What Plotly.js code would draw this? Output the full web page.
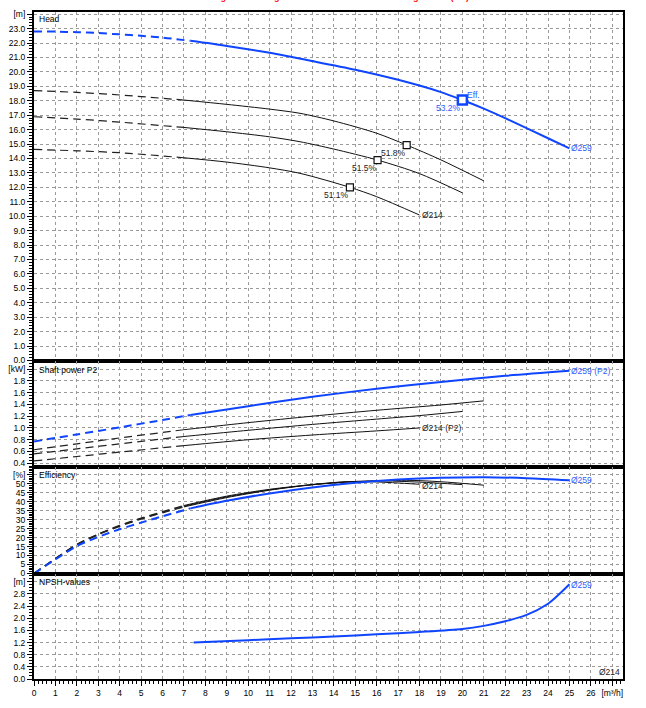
<!DOCTYPE html>
<html><head><meta charset="utf-8">
<script src="https://cdn.plot.ly/plotly-3.0.1.min.js"></script>
<style>html,body{margin:0;padding:0;background:#fff}#chart{width:646px;height:708px}</style>
</head><body><div id="chart"></div>
<script>
// ---------- DATA ----------
// Head [m]
const headQ_259 = [0,1,2,3,4,5,6,7.3,9,11,13,15,17,19,20,21,22.5,24,25];
const head_259  = [22.8,22.79,22.75,22.69,22.6,22.5,22.38,22.15,21.8,21.32,20.75,20.15,19.45,18.6,18.05,17.45,16.45,15.4,14.7];
const headQ_A = [0,2,4,7,9,11,12.42,14,16,17.4,19,21];
const head_A  = [18.7,18.58,18.4,18.05,17.75,17.42,17.13,16.6,15.75,14.93,13.9,12.45];
const headQ_B = [0,2,4,7,9,11,12.42,14,16.04,18,20];
const head_B  = [16.89,16.73,16.52,16.15,15.85,15.5,15.16,14.65,13.89,12.95,11.62];
const headQ_214 = [0,2,4,7,9,11,12.42,14.75,16,18];
const head_214  = [14.63,14.53,14.4,14.05,13.75,13.35,12.97,12.0,11.35,10.08];
// Best-efficiency points
const bepQ   = [17.4, 16.04, 14.75];
const bepH   = [14.93, 13.89, 12.0];
const bepTxt = ['51.8%','51.5%','51.1%'];
const bep259Q = 20.0, bep259H = 18.05, bep259Txt = '53.2%';
// Shaft power P2 [kW]
const powQ_259 = [0,2,4,6,7.3,10,13,16,19,22,25];
const pow_259  = [0.77,0.89,1.01,1.135,1.22,1.37,1.53,1.665,1.78,1.885,1.97];
const powQ_A = [0,2,4,7,10,13,16,19,21];
const pow_A  = [0.63,0.73,0.83,0.97,1.09,1.2,1.3,1.39,1.46];
const powQ_B = [0,2,4,7,10,13,16,18,20];
const pow_B  = [0.56,0.645,0.73,0.855,0.96,1.06,1.15,1.21,1.28];
const powQ_214 = [0,2,4,7,10,13,16,18];
const pow_214  = [0.44,0.515,0.59,0.7,0.8,0.88,0.95,1.0];
// Efficiency [%]
const effQ_259 = [0,1,2,3,4,5,6,7.3,9,11,13,15,17,19,21,23,25];
const eff_259  = [0,7.8,15.3,20.3,24.6,28.3,31.8,36.2,40.4,44.5,47.8,50.4,52.2,53.2,53.5,53,51.8];
const effQ_A = [0,1,2,3,4,5,6,7,9,11,13,15,17.4,19,21];
const eff_A  = [0,8.4,16.3,22,26.8,30.8,34.4,37.8,43,46.8,49.4,51,51.8,51,49.1];
const effQ_B = [0,1,2,3,4,5,6,7,9,11,13,14.5,16.04,18,20];
const eff_B  = [0,8.3,16.1,21.8,26.5,30.5,34,37.4,42.6,46.5,49.3,50.9,51.5,50.8,49.4];
const effQ_214 = [0,1,2,3,4,5,6,7,9,11,13,14.75,16,18];
const eff_214  = [0,8.2,15.9,21.5,26.2,30.2,33.7,37,42.2,46.3,49.5,51.1,50.9,49.6];
// NPSH [m]
const npshQ_259 = [7.45,10,12,14,16,18,20,21,22,23,24,24.5,25];
const npsh_259  = [1.2,1.28,1.34,1.4,1.47,1.55,1.65,1.75,1.9,2.11,2.48,2.78,3.12];
// Where the dashed (extrapolated) part ends
const dashEnd259 = 7.3, dashEndBlack = 7.0;
// Tick labels
const xTickVals = [...Array(28).keys()];
const xTickText = xTickVals.map(v => v === 27 ? '[m³/h]' : String(v));
const headTicks = [...Array(25).keys()];
const headText  = headTicks.map(v => v === 24 ? '[m]' : v.toFixed(1));
const powTicks = [0.4,0.6,0.8,1.0,1.2,1.4,1.6,1.8,2.0];
const powText  = powTicks.map(v => v === 2.0 ? '[kW]' : v.toFixed(1));
const effTicks = [0,5,10,15,20,25,30,35,40,45,50,55];
const effText  = effTicks.map(v => v === 55 ? '[%]' : String(v));
const npshTicks = [0,0.4,0.8,1.2,1.6,2.0,2.4,2.8,3.2];
const npshText  = npshTicks.map(v => v === 3.2 ? '[m]' : v.toFixed(1));
const title = 'Main n.x - according to Ecodesign Directive 2009/125/EC and Regulation (EU) No.547/2012';

// ---------- STYLE ----------
const BLUE = '#0f45ff', BLUE_T = '#2d5cff', BLACK = '#111';
const FONT = 'Liberation Sans, Arial, sans-serif';
const traces = [];
function curve(Q, V, split, color, width, xa, ya, solidOnly) {
  const dq = [], dv = [], sq = [], sv = [];
  Q.forEach((q, i) => {
    if (!solidOnly && q <= split) { dq.push(q); dv.push(V[i]); }
    if (solidOnly || q >= split) { sq.push(q); sv.push(V[i]); }
  });
  if (dq.length > 1) traces.push({x: dq, y: dv, xaxis: xa, yaxis: ya, mode: 'lines',
    line: {color: color === BLUE ? BLUE : '#222', width: color === BLUE ? width : 1.2, dash: '8px,5px', shape: 'spline', smoothing: 0.8},
    hoverinfo: 'skip', showlegend: false});
  traces.push({x: sq, y: sv, xaxis: xa, yaxis: ya, mode: 'lines',
    line: {color: color, width: width, shape: 'spline', smoothing: 0.8}, hoverinfo: 'skip', showlegend: false});
}
// Head
curve(headQ_A, head_A, dashEndBlack, BLACK, 1, 'x', 'y');
curve(headQ_B, head_B, dashEndBlack, BLACK, 1, 'x', 'y');
curve(headQ_214, head_214, dashEndBlack, BLACK, 1, 'x', 'y');
curve(headQ_259, head_259, dashEnd259, BLUE, 2, 'x', 'y');
traces.push({x: bepQ, y: bepH, xaxis: 'x', yaxis: 'y', mode: 'markers',
  marker: {symbol: 'square', size: 7, color: '#fff', line: {color: BLACK, width: 1.2}}, showlegend: false, hoverinfo: 'skip'});
traces.push({x: [bep259Q], y: [bep259H], xaxis: 'x', yaxis: 'y', mode: 'markers',
  marker: {symbol: 'square', size: 9, color: '#fff', line: {color: BLUE, width: 2.5}}, showlegend: false, hoverinfo: 'skip'});
// Power
curve(powQ_A, pow_A, dashEndBlack, BLACK, 1, 'x2', 'y2');
curve(powQ_B, pow_B, dashEndBlack, BLACK, 1, 'x2', 'y2');
curve(powQ_214, pow_214, dashEndBlack, BLACK, 1, 'x2', 'y2');
curve(powQ_259, pow_259, dashEnd259, BLUE, 2, 'x2', 'y2');
// Efficiency
curve(effQ_A, eff_A, dashEndBlack, BLACK, 1, 'x3', 'y3');
curve(effQ_B, eff_B, dashEndBlack, BLACK, 1, 'x3', 'y3');
curve(effQ_214, eff_214, dashEndBlack, BLACK, 1, 'x3', 'y3');
curve(effQ_259, eff_259, dashEnd259, BLUE, 2, 'x3', 'y3');
// NPSH
curve(npshQ_259, npsh_259, 0, BLUE, 2, 'x4', 'y4', true);

const grid = {showgrid: true, gridcolor: '#9a9a9a', griddash: 'dot', gridwidth: 1,
  showline: true, linecolor: '#000', linewidth: 2, mirror: true, zeroline: false,
  tickfont: {family: FONT, size: 8.5, color: '#000'}};
function xa(anchor, labels) {
  return Object.assign({}, grid, {anchor: anchor, range: [0, 27.5], tickmode: 'array', tickvals: xTickVals,
    ticktext: xTickText, showticklabels: labels, ticks: labels ? 'outside' : '', ticklen: 5, tickcolor: '#000',
    minor: labels ? {tickmode: 'linear', tick0: 0, dtick: 0.2, ticks: 'outside', ticklen: 3, tickcolor: '#000', showgrid: false} : {},
    matches: anchor === 'y4' ? undefined : 'x4'});
}
function ya(dom, range, tv, tt, mdt) {
  return Object.assign({}, grid, {domain: dom, range: range, tickmode: 'array', tickvals: tv, ticktext: tt,
    ticks: 'outside', ticklen: 5, tickcolor: '#000',
    minor: {tickmode: 'linear', tick0: 0, dtick: mdt, ticks: 'outside', ticklen: 3, tickcolor: '#000', showgrid: false}});
}
const L = 34, R = 23, T = 12, B = 29, H = 708;
const f = p => (H - B - p) / (H - T - B);
const ann = [];
function txt(x, y, t, xr, yr, color, xanchor, yanchor, xs, ys) {
  ann.push({x: x, y: y, xref: xr, yref: yr, text: t, showarrow: false, xanchor: xanchor, yanchor: yanchor,
    xshift: xs || 0, yshift: ys || 0, font: {family: FONT, size: 8.5, color: color}});
}
txt(0.15, 23.65, 'Head', 'x', 'y', '#000', 'left', 'middle');
txt(0.15, 1.98, 'Shaft power P2', 'x2', 'y2', '#000', 'left', 'middle');
txt(0.15, 55, 'Efficiency', 'x3', 'y3', '#000', 'left', 'middle');
txt(0.15, 3.2, 'NPSH-values', 'x4', 'y4', '#000', 'left', 'middle');
bepQ.forEach((q, i) => txt(q, bepH[i], bepTxt[i], 'x', 'y', '#222', 'right', 'top', 1, -1));
txt(bep259Q, bep259H, bep259Txt, 'x', 'y', BLUE_T, 'right', 'top', 1, -1);
txt(bep259Q, bep259H, 'Eff.', 'x', 'y', BLUE_T, 'left', 'bottom', 3, -2);
txt(25, 14.7, 'Ø259', 'x', 'y', BLUE_T, 'left', 'middle');
txt(18, 10.08, 'Ø214', 'x', 'y', '#222', 'left', 'middle');
txt(25, 1.97, 'Ø259 (P2)', 'x2', 'y2', BLUE_T, 'left', 'middle');
txt(18, 1.0, 'Ø214 (P2)', 'x2', 'y2', '#222', 'left', 'middle');
txt(25, 51.8, 'Ø259', 'x3', 'y3', BLUE_T, 'left', 'middle');
txt(18, 48.4, 'Ø214', 'x3', 'y3', '#222', 'left', 'middle');
txt(25, 3.1, 'Ø259', 'x4', 'y4', BLUE_T, 'left', 'middle');
txt(27.45, 0.23, 'Ø214', 'x4', 'y4', '#222', 'right', 'middle');
ann.push({x: 0.5, y: f(-2.5), xref: 'paper', yref: 'paper', text: '<b>' + title + '</b>', showarrow: false,
  xanchor: 'center', yanchor: 'middle', xshift: 3, font: {family: FONT, size: 9, color: '#ff2020'}});

const layout = {
  width: 646, height: 708, margin: {l: L, r: R, t: T, b: B, pad: 0},
  paper_bgcolor: '#fff', plot_bgcolor: '#fff', showlegend: false,
  xaxis: xa('y', false), xaxis2: xa('y2', false), xaxis3: xa('y3', false), xaxis4: xa('y4', true),
  yaxis:  ya([f(360.5), 1], [0, 24.15], headTicks, headText, 0.2),
  yaxis2: ya([f(467), f(360.5)], [0.337, 2.145], powTicks, powText, 0.05),
  yaxis3: ya([f(573.5), f(467)], [0, 59.2], effTicks, effText, 1),
  yaxis4: ya([0, f(573.5)], [0, 3.475], npshTicks, npshText, 0.1),
  annotations: ann
};
layout.yaxis.anchor = 'x'; layout.yaxis2.anchor = 'x2'; layout.yaxis3.anchor = 'x3'; layout.yaxis4.anchor = 'x4';
Plotly.newPlot('chart', traces, layout, {staticPlot: true, displayModeBar: false});
</script></body></html>
